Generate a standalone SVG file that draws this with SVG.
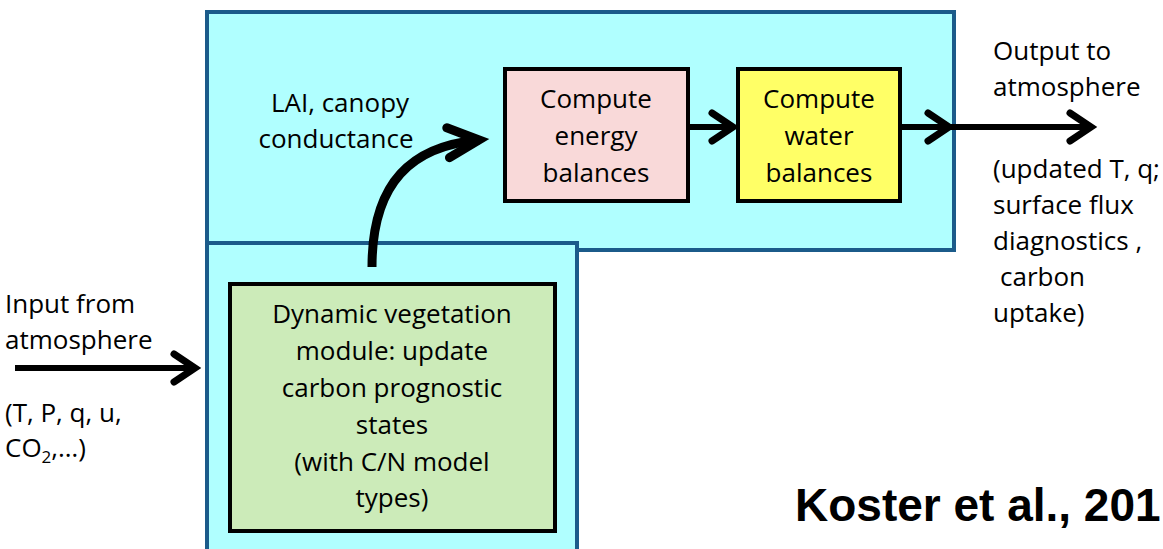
<svg xmlns="http://www.w3.org/2000/svg" width="1163" height="549" viewBox="0 0 1163 549">
<defs>
<style>
.t{font-family:"Open Sans","Liberation Sans",sans-serif;font-size:26px;fill:#000}
.c{text-anchor:middle}
.panel{fill:#B0FFFF;stroke:#1B5B8A;stroke-width:4}
.box{stroke:#000;stroke-width:4}
.arr{fill:none;stroke:#000;stroke-width:6;marker-end:url(#chev)}
.curve{fill:none;stroke:#000;stroke-width:9;marker-end:url(#chevbig)}
</style>
<marker id="chev" markerUnits="userSpaceOnUse" markerWidth="40" markerHeight="40" viewBox="-30 -20 40 40" refX="0" refY="0" orient="auto" overflow="visible">
<path d="M-21,-14 L0,0 L-21,14" fill="none" stroke="#000" stroke-width="7" stroke-linecap="round" stroke-linejoin="miter"/>
</marker>
<marker id="chevbig" markerUnits="userSpaceOnUse" markerWidth="60" markerHeight="60" viewBox="-45 -30 60 60" refX="0" refY="0" orient="auto" overflow="visible">
<path d="M-31,-15 L0,0 L-31,15" fill="none" stroke="#000" stroke-width="9" stroke-linecap="round" stroke-linejoin="miter"/>
</marker>
</defs>
<rect width="1163" height="549" fill="#fff"/>
<g id="land-model-panel">
<rect class="panel" x="207" y="12" width="747" height="238"/>
</g>
<g id="vegetation-panel">
<rect class="panel" x="207" y="243" width="370" height="320"/>
</g>
<g id="energy">
<rect class="box" x="505" y="69" width="183" height="132" fill="#F9D9D9"/>
<text class="t c" x="596" y="108">Compute</text>
<text class="t c" x="596" y="145">energy</text>
<text class="t c" x="596" y="182">balances</text>
</g>
<g id="water">
<rect class="box" x="738" y="69" width="162" height="132" fill="#FFFF66"/>
<text class="t c" x="819" y="108">Compute</text>
<text class="t c" x="819" y="145">water</text>
<text class="t c" x="819" y="182">balances</text>
</g>
<g id="vegetation">
<rect class="box" x="230" y="284" width="325" height="247" fill="#CCEBB9"/>
<text class="t c" x="392" y="323">Dynamic vegetation</text>
<text class="t c" x="392" y="360">module: update</text>
<text class="t c" x="392" y="397">carbon prognostic</text>
<text class="t c" x="392" y="434">states</text>
<text class="t c" x="392" y="471">(with C/N model</text>
<text class="t c" x="392" y="507">types)</text>
</g>
<g id="connectors">
<path class="arr" d="M15,368 L195,368"/>
<path class="curve" d="M372,267 C372,182 412,146 479,140"/>
<path class="arr" d="M688,127 L733,127"/>
<path class="arr" d="M900,127 L949,127"/>
<path class="arr" d="M949,127 L1091,127"/>
</g>
<g id="labels">
<text class="t c" x="340" y="112">LAI, canopy</text>
<text class="t c" x="336" y="148">conductance</text>
<text class="t" x="993" y="60">Output to</text>
<text class="t" x="993" y="96">atmosphere</text>
<text class="t" x="993" y="178">(updated T, q;</text>
<text class="t" x="993" y="214">surface flux</text>
<text class="t" x="993" y="250">diagnostics ,</text>
<text class="t" x="1000" y="286">carbon</text>
<text class="t" x="993" y="322">uptake)</text>
<text class="t" x="5" y="313">Input from</text>
<text class="t" x="5" y="349">atmosphere</text>
<text class="t" x="5" y="422">(T, P, q, u,</text>
<text class="t" x="5" y="457">CO<tspan font-size="17" dy="6">2</tspan><tspan dy="-6">,…)</tspan></text>
<text x="795" y="521" font-family="'Liberation Sans',Arial,sans-serif" font-size="46" font-weight="bold" fill="#000">Koster et al., 201</text>
</g>
</svg>
